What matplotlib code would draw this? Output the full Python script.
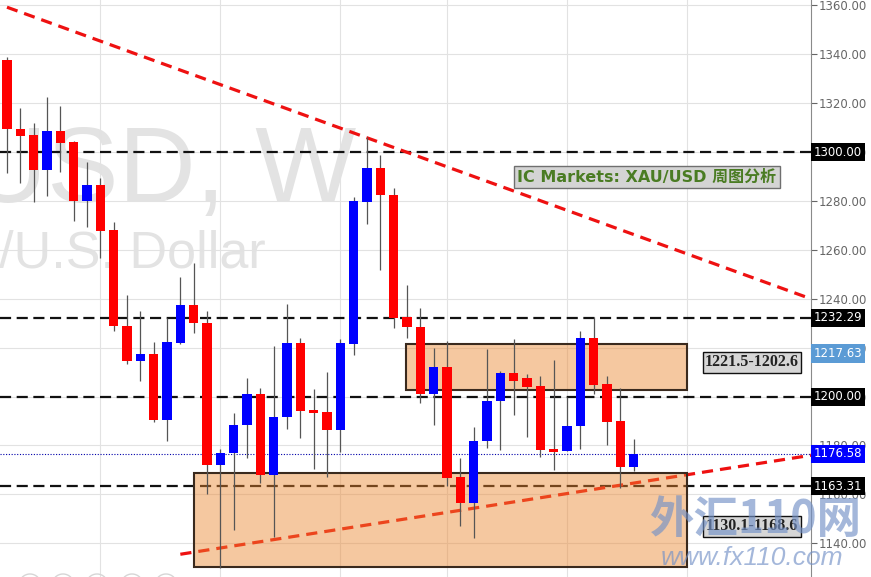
import matplotlib
matplotlib.use("Agg")
import matplotlib.pyplot as plt
from matplotlib.patches import Rectangle, Circle
from matplotlib.transforms import IdentityTransform
import numpy as np

# weekly XAU/USD candles, oldest first
opens = [1337.5, 1309.5, 1307.0, 1292.7, 1308.8, 1304.2, 1280.2, 1286.6, 1268.1, 1229.0,
         1214.7, 1217.5, 1190.3, 1222.0, 1237.5, 1230.1, 1172.1, 1177.0, 1188.2, 1201.0,
         1168.0, 1191.5, 1221.8, 1194.5, 1193.6, 1186.4, 1221.4, 1279.6, 1293.6, 1282.6,
         1232.7, 1228.6, 1201.0, 1212.3, 1167.0, 1156.6, 1181.9, 1198.0, 1209.6, 1207.5,
         1204.4, 1178.5, 1177.9, 1188.1, 1223.9, 1205.1, 1190.1, 1171.2]
highs = [1339.1, 1318.2, 1311.9, 1322.4, 1318.9, 1304.5, 1296.1, 1289.5, 1271.3, 1241.6,
         1235.0, 1222.4, 1232.2, 1249.0, 1254.6, 1235.0, 1178.4, 1193.2, 1207.5, 1203.7,
         1220.8, 1237.7, 1223.8, 1203.2, 1210.2, 1223.6, 1281.6, 1306.1, 1298.9, 1285.3,
         1245.6, 1236.4, 1219.8, 1222.8, 1174.9, 1187.5, 1219.5, 1210.5, 1223.6, 1209.2,
         1208.6, 1215.0, 1200.0, 1226.8, 1232.7, 1208.4, 1203.7, 1182.5]
lows = [1291.6, 1287.4, 1279.7, 1282.2, 1291.9, 1272.0, 1269.3, 1256.9, 1227.0, 1213.3,
        1206.4, 1189.6, 1181.9, 1221.4, 1225.9, 1160.2, 1130.0, 1145.6, 1174.9, 1164.7,
        1142.5, 1186.8, 1183.0, 1170.5, 1167.0, 1177.3, 1217.0, 1270.8, 1251.7, 1227.9,
        1223.8, 1197.3, 1188.3, 1163.3, 1147.0, 1142.2, 1179.0, 1178.3, 1192.3, 1183.6,
        1175.1, 1170.1, 1177.6, 1178.7, 1201.0, 1180.3, 1162.6, 1169.4]
closes = [1309.5, 1306.7, 1292.7, 1308.8, 1303.8, 1280.2, 1286.6, 1267.9, 1228.7, 1214.7,
          1217.5, 1190.3, 1222.4, 1237.5, 1230.1, 1172.1, 1177.0, 1188.5, 1201.0, 1168.0,
          1191.5, 1221.8, 1194.2, 1193.4, 1186.4, 1221.8, 1279.9, 1293.6, 1282.3, 1232.3,
          1228.6, 1201.0, 1212.3, 1166.7, 1156.6, 1181.9, 1198.3, 1209.7, 1206.4, 1203.9,
          1178.3, 1177.5, 1188.1, 1223.9, 1204.8, 1189.6, 1171.2, 1176.58]

key_levels = [1300.00, 1232.29, 1200.00, 1163.31]
last_price = 1176.58
ask_price = 1217.63
zone_lows = [1202.6, 1130.1]
zone_highs = [1221.5, 1168.6]
zone_labels = ["1221.5-1202.6", "1130.1-1168.6"]
zone_starts = [29.9, 14.0]
zone_end = 51.0
upper_trend_x = [0, 60.3]
upper_trend_y = [1359.3, 1240.0]
lower_trend_x = [13, 60.3]
lower_trend_y = [1135.5, 1176.0]
month_lines = [7, 16, 25, 33, 42, 51]
y_ticks = np.arange(1140, 1361, 20)

W, H = 871, 577
AX_W = 811

fig = plt.figure(figsize=(W / 100, H / 100), dpi=100)
ax = fig.add_axes([0, 0, AX_W / W, 1])
ax.set_xlim(-0.525, 60.3)
ax.set_ylim(1126.2, 1362.25)

# grid
ax.set_yticks(y_ticks)
ax.set_yticklabels([f"{v:.2f}" for v in y_ticks])
ax.set_xticks(month_lines)
ax.grid(True, color="#e2e2e2", lw=0.8)
ax.set_axisbelow(True)
ax.yaxis.tick_right()
ax.tick_params(axis="x", length=0, labelbottom=False)
ax.tick_params(axis="y", colors="#666666", labelsize=8.5, length=4, pad=1.5)
for s in ["left", "top", "bottom"]:
    ax.spines[s].set_visible(False)
ax.spines["right"].set_color("#8a8a8a")

# symbol watermark
ax.text(356 / AX_W, 1 - 202 / H, "XAUUSD, W", transform=ax.transAxes, ha="right",
        va="baseline", fontsize=77, family="Liberation Sans", color="#e3e3e3", zorder=0.5)
ax.text(266 / AX_W, 1 - 268 / H, "Gold Spot/U.S. Dollar", transform=ax.transAxes, ha="right",
        va="baseline", fontsize=37.5, family="Liberation Sans", color="#e3e3e3", zorder=0.5)

# levels
for lv in key_levels:
    ax.axhline(lv, color="#111111", lw=1.6, ls=(0, (5, 2.5)), zorder=2)
ax.axhline(last_price, color="#0000aa", lw=0.8, ls=(0, (1, 1.5)), zorder=2)

ax.plot(upper_trend_x, upper_trend_y, color="#ee1111", lw=2.3, ls=(0, (3.5, 2.2)), zorder=2)
ax.plot(lower_trend_x, lower_trend_y, color="#ee1111", lw=2.3, ls=(0, (3.5, 2.2)), zorder=2)

# zones
for lo, hi, x0 in zip(zone_lows, zone_highs, zone_starts):
    ax.add_patch(Rectangle((x0, lo), zone_end - x0, hi - lo,
                           fc=(235 / 255, 133 / 255, 44 / 255, 0.45),
                           ec="#3a2a1e", lw=1.5, zorder=2.6))

# candles
for i, (o, h, l, c) in enumerate(zip(opens, highs, lows, closes)):
    col = "#0000ff" if c >= o else "#ff0000"
    ax.vlines(i, l, h, color="#555555", lw=0.9, zorder=3)
    ax.add_patch(Rectangle((i - 0.34, min(o, c)), 0.68, max(abs(c - o), 0.5),
                           fc=col, ec="none", zorder=4))

# zone labels
label_y = [1214.1, 1147.0]
for txt, yy in zip(zone_labels, label_y):
    ax.text(752 / AX_W, yy, txt, transform=ax.get_yaxis_transform(), ha="center",
            va="center", fontsize=11.5, fontweight="bold", family="Liberation Serif",
            color="#222222", zorder=6,
            bbox=dict(boxstyle="square,pad=0.15", fc="#d6d6d6", ec="#111111", lw=1))

ax.text(647 / AX_W, 1 - 177 / H, "IC Markets: XAU/USD 周图分析", transform=ax.transAxes,
        ha="center", va="center", fontsize=11.5, fontweight="bold", color="#4a7c23",
        family=["DejaVu Sans", "Noto Sans CJK SC"], zorder=6,
        bbox=dict(boxstyle="square,pad=0.2", fc="#d4d4d4", ec="#6f6f6f", lw=1))

# price boxes on axis
def price_box(val, fc):
    ax.text(814 / AX_W, val, f"{val:.2f}", transform=ax.get_yaxis_transform(), ha="left",
            va="center", color="white", fontsize=8.5, clip_on=False, zorder=10,
            bbox=dict(boxstyle="square,pad=0.22", fc=fc, ec="none"))

for lv in key_levels:
    price_box(lv, "black")
price_box(ask_price, "#5b9bd5")
price_box(last_price, "#0000ff")

# toolbar circles peeking at the bottom edge
for cx in [30, 63, 97, 132, 166]:
    fig.add_artist(Circle((cx, -8), 11, transform=IdentityTransform(),
                          fill=False, ec="#d6d6d6", lw=1))

# site watermark
wm = (0.45, 0.57, 0.78, 0.65)
fig.text(755 / W, 1 - 520 / H, "外汇110网", ha="center", va="center", fontsize=32,
         fontweight="bold", family="Noto Sans CJK SC", color=wm)
fig.text(752 / W, 1 - 558 / H, "www.fx110.com", ha="center", va="center", fontsize=19,
         style="italic", family="Liberation Sans", color=wm)

fig.savefig("out.png", dpi=100)
